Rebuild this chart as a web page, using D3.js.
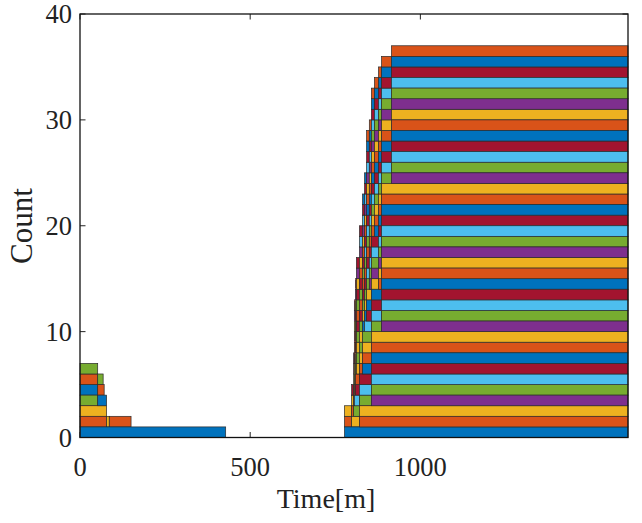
<!DOCTYPE html>
<html><head><meta charset="utf-8">
<script src="https://cdn.jsdelivr.net/npm/d3@7/dist/d3.min.js"></script>
<style>body{margin:0;background:#fff}svg{display:block}</style>
</head><body>
<svg id="chart" width="642" height="523"></svg>
<script>
// MATLAB default colour order
const palette = ["#0072BD","#D95319","#EDB120","#7E2F8E","#77AC30","#4DBEEE","#A2142F"];

// Morning group (stack order), colour index, start and end [min]
const morningColor = [0, 1, 1, 2, 4, 0, 1, 4];
const morningStart = [0, 86, 0, 0, 0, 0, 0, 0];
const morningEnd   = [428, 150, 78, 86, 52, 78, 71, 68];

// Evening group (stack order), colour index, start and end [min]
const eveningColor = [0,1,2,3,4,5,6, 0,1,2,3,4,5,6, 0,1,2,3,4,5,6, 0,1,2,3,4,5,6, 0,1,2,3,4,5,6, 0,1];
const eveningStart = [777,821,798,856,804,806,809, 830,777,812,886,804,836,842,
                      830,877,777,850,812,842,798, 865,806,856,915,809,836,804,
                      842,821,806,806,856,821,806, 830,842];
const eveningEnd   = [1610,1610,1610,1610,1610,1610,1610, 1610,1610,1610,1610,1610,1610,1610,
                      1610,1610,1610,1610,1610,1610,1610, 1610,1610,1610,1610,1610,1610,1610,
                      1610,1610,1610,1610,1610,1610,1610, 1610,1610];

const xDomain = [0, 1610];
const yDomain = [0, 40];
const xTicks = [0, 500, 1000];
const yTicks = [0, 10, 20, 30, 40];
const xLabel = "Time[m]";
const yLabel = "Count";

// ---- build items
const items = [];
morningColor.forEach((c,i)=>items.push({c, s:morningStart[i], e:morningEnd[i]}));
eveningColor.forEach((c,i)=>items.push({c, s:eveningStart[i], e:eveningEnd[i]}));

// elementary intervals, stacked in item order
const times = Array.from(new Set(items.flatMap(d=>[d.s,d.e]))).sort((a,b)=>a-b);
const segs = [];
const open = new Map();
for (let k=0;k<times.length-1;k++){
  const t0=times[k], t1=times[k+1];
  let lvl=0;
  const seen=new Set();
  items.forEach((d,i)=>{
    if (d.s<=t0 && d.e>=t1){
      seen.add(i);
      const o=open.get(i);
      if (o && o.lvl===lvl && o.x1===t0){ o.x1=t1; }
      else { if(o) segs.push(o); open.set(i,{c:d.c,lvl,x0:t0,x1:t1}); }
      lvl++;
    }
  });
  for (const [i,o] of Array.from(open.entries())){ if(!seen.has(i)){ segs.push(o); open.delete(i);} }
}
for (const o of open.values()) segs.push(o);

// ---- draw
const m={l:80,t:14,r:628,b:437.5};
const svg=d3.select("#chart");
const x=d3.scaleLinear().domain(xDomain).range([m.l,m.r]);
const y=d3.scaleLinear().domain(yDomain).range([m.b,m.t]);
const font="'Liberation Serif','Times New Roman',serif";

svg.append("rect").attr("x",m.l).attr("y",m.t).attr("width",m.r-m.l).attr("height",m.b-m.t).attr("fill","#fff");

// ticks (inward, below data)
const tl=5.5;
const tg=svg.append("g").attr("stroke","#222").attr("stroke-width",1);
xTicks.forEach(v=>{
  tg.append("line").attr("x1",x(v)).attr("x2",x(v)).attr("y1",m.b).attr("y2",m.b-tl);
  tg.append("line").attr("x1",x(v)).attr("x2",x(v)).attr("y1",m.t).attr("y2",m.t+tl);
});
yTicks.forEach(v=>{
  tg.append("line").attr("y1",y(v)).attr("y2",y(v)).attr("x1",m.l).attr("x2",m.l+tl);
  tg.append("line").attr("y1",y(v)).attr("y2",y(v)).attr("x1",m.r).attr("x2",m.r-tl);
});

svg.append("g").selectAll("rect").data(segs).join("rect")
  .attr("x",d=>x(d.x0)).attr("width",d=>x(d.x1)-x(d.x0))
  .attr("y",d=>y(d.lvl+1)).attr("height",d=>y(d.lvl)-y(d.lvl+1))
  .attr("fill",d=>palette[d.c])
  .attr("stroke","#2a2a2a").attr("stroke-width",0.7);

// frame
svg.append("rect").attr("x",m.l).attr("y",m.t).attr("width",m.r-m.l).attr("height",m.b-m.t)
  .attr("fill","none").attr("stroke","#111").attr("stroke-width",1.3);

// tick labels
svg.append("g").selectAll("text").data(xTicks).join("text")
  .attr("x",d=>x(d)).attr("y",476).attr("text-anchor","middle")
  .attr("font-family",font).attr("font-size",26.5).attr("fill","#222").text(d=>d);
svg.append("g").selectAll("text").data(yTicks).join("text")
  .attr("x",72).attr("y",d=>y(d)+9).attr("text-anchor","end")
  .attr("font-family",font).attr("font-size",26.5).attr("fill","#222").text(d=>d);

svg.append("text").attr("x",326).attr("y",508).attr("text-anchor","middle")
  .attr("font-family",font).attr("font-size",28).attr("fill","#222").text(xLabel);
svg.append("text").attr("transform","translate(32,226) rotate(-90)").attr("text-anchor","middle")
  .attr("font-family",font).attr("font-size",31).attr("fill","#222").text(yLabel);
</script>
</body></html>
